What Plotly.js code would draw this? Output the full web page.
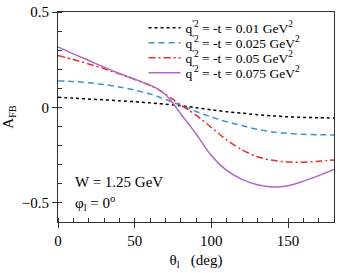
<!DOCTYPE html>
<html>
<head>
<meta charset="utf-8">
<script src="https://cdn.plot.ly/plotly-3.0.1.min.js"></script>
<style>html,body{margin:0;padding:0;background:#fff;}#plot{width:354px;height:273px;}</style>
</head>
<body>
<div id="plot"></div>
<script>
const theta = [0,10,20,30,40,50,60,65,70,75,80,85,90,100,110,120,130,140,150,160,170,180];
const afb001 = [0.053,0.049,0.044,0.040,0.035,0.030,0.024,0.021,0.017,0.013,0.009,0.004,-0.001,-0.012,-0.022,-0.030,-0.038,-0.044,-0.049,-0.052,-0.054,-0.055];
const afb0025 = [0.139,0.136,0.129,0.120,0.107,0.091,0.070,0.057,0.043,0.027,0.011,-0.005,-0.021,-0.050,-0.075,-0.095,-0.115,-0.128,-0.136,-0.141,-0.143,-0.144];
const afb005 = [0.272,0.251,0.228,0.203,0.176,0.147,0.115,0.096,0.070,0.042,0.013,-0.012,-0.040,-0.105,-0.170,-0.222,-0.258,-0.277,-0.286,-0.287,-0.282,-0.275];
const afb0075 = [0.317,0.281,0.246,0.211,0.178,0.148,0.117,0.097,0.068,0.022,-0.033,-0.085,-0.138,-0.252,-0.330,-0.377,-0.405,-0.417,-0.410,-0.386,-0.357,-0.325];
const names = [
  "q<sup>'2</sup> = -t = 0.01 GeV<sup>2</sup>",
  "q<sup>'2</sup> = -t = 0.025 GeV<sup>2</sup>",
  "q<sup>'2</sup> = -t = 0.05 GeV<sup>2</sup>",
  "q<sup>'2</sup> = -t = 0.075 GeV<sup>2</sup>"
];
const series = [afb001, afb0025, afb005, afb0075];
const colors = ['#000000', '#3d92d0', '#f02a2a', '#b266c6'];
const dashes = ['dot', '6px,4px', '7px,3px,2px,3px', 'solid'];
const legendIds = ['legend', 'legend2', 'legend3', 'legend4'];
const legendRows = [28, 43, 58, 73];

const traces = series.map((s, i) => ({
  x: theta, y: s, type: 'scatter', mode: 'lines', name: names[i], legend: legendIds[i],
  line: {color: colors[i], dash: dashes[i], width: 1.5, shape: 'spline', smoothing: 0.8}
}));

const fam = '"Liberation Serif", "Times New Roman", serif';
const font = {family: fam, size: 15, color: '#000'};

const layout = {
  width: 354, height: 273,
  margin: {l: 58, r: 20, t: 12, b: 51},
  paper_bgcolor: '#fff', plot_bgcolor: '#fff',
  font: font,
  showlegend: true,
  xaxis: {
    range: [0, 180], dtick: 50, tick0: 0, ticks: 'outside', ticklen: 5, tickcolor: '#333',
    showline: true, mirror: true, linecolor: '#333', linewidth: 1,
    showgrid: false, zeroline: false,
    minor: {dtick: 10, ticks: 'inside', ticklen: 4, tickcolor: '#333', showgrid: false},
    tickfont: {family: fam, size: 15},
    title: {text: 'θ<sub>l</sub>   (deg)', font: {family: fam, size: 15}, standoff: 6}
  },
  yaxis: {
    range: [-0.6, 0.5], dtick: 0.5, tick0: 0, ticks: 'outside', ticklen: 5, tickcolor: '#333',
    showline: true, mirror: true, linecolor: '#333', linewidth: 1,
    showgrid: false, zeroline: false,
    minor: {dtick: 0.1, ticks: 'inside', ticklen: 4, tickcolor: '#333', showgrid: false},
    tickfont: {family: fam, size: 15},
    title: {text: 'A<sub>FB</sub>', font: {family: fam, size: 15}, standoff: 8}
  },
  annotations: [
    {text: 'W = 1.25 GeV', xref: 'paper', yref: 'paper', x: 0.055, y: (222-181.7)/210, xanchor: 'left', yanchor: 'middle', showarrow: false, font: {family: fam, size: 15}},
    {text: 'φ<sub>l</sub> = 0<sup>o</sup>', xref: 'paper', yref: 'paper', x: 0.055, y: (222-203)/210, xanchor: 'left', yanchor: 'middle', showarrow: false, font: {family: fam, size: 15}}
  ]
};
legendIds.forEach((id, i) => {
  layout[id] = {x: 0.31, y: (222 - legendRows[i]) / 210, xanchor: 'left', yanchor: 'middle',
    bgcolor: 'rgba(0,0,0,0)', font: {family: fam, size: 13.5, color: '#000'}, itemwidth: 32};
});

Plotly.newPlot('plot', traces, layout, {staticPlot: true, displayModeBar: false});
</script>
</body>
</html>
